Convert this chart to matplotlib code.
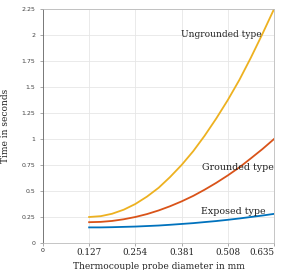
import matplotlib.pyplot as plt

diameter = [0.127, 0.159, 0.190, 0.222, 0.254, 0.286, 0.318, 0.349, 0.381,
            0.413, 0.444, 0.476, 0.508, 0.540, 0.571, 0.603, 0.635]
exposed = [0.150, 0.150, 0.152, 0.155, 0.158, 0.163, 0.168, 0.175, 0.183,
           0.191, 0.201, 0.211, 0.223, 0.236, 0.250, 0.264, 0.280]
grounded = [0.200, 0.203, 0.212, 0.228, 0.250, 0.278, 0.313, 0.353, 0.400,
            0.453, 0.512, 0.578, 0.650, 0.728, 0.813, 0.903, 1.000]
ungrounded = [0.250, 0.258, 0.281, 0.320, 0.375, 0.446, 0.531, 0.633, 0.750,
              0.883, 1.030, 1.196, 1.375, 1.570, 1.780, 2.010, 2.250]

xticks = [0, 0.127, 0.254, 0.381, 0.508, 0.635]
xtick_labels = ['0', '0.127', '0.254', '0.381', '0.508', '0.635']
yticks = [0, 0.25, 0.5, 0.75, 1, 1.25, 1.5, 1.75, 2, 2.25]
ytick_labels = ['0', '0.25', '0.5', '0.75', '1', '1.25', '1.5', '1.75', '2', '2.25']

fig = plt.figure(figsize=(2.82, 2.70), dpi=100)
ax = fig.add_axes([0.152, 0.1, 0.82, 0.867])

ax.plot(diameter, exposed, color='#0072BD', linewidth=1.3)
ax.plot(diameter, grounded, color='#D95319', linewidth=1.3)
ax.plot(diameter, ungrounded, color='#EDB120', linewidth=1.3)

ax.set_xlim(0, 0.635)
ax.set_ylim(0, 2.25)
ax.set_xticks(xticks)
ax.set_xticklabels(xtick_labels, family='DejaVu Serif', fontsize=6.3)
labels = ax.get_xticklabels()
labels[0].set_fontsize(4.5)
labels[0].set_family('DejaVu Sans')
labels[-1].set_horizontalalignment('right')
ax.set_yticks(yticks)
ax.set_yticklabels(ytick_labels, fontsize=4.5)
ax.tick_params(length=2, width=0.5, colors='#888888', labelcolor='#444444')
ax.tick_params(axis='x', pad=1.5, labelcolor='#222222')
ax.grid(True, color='#e6e6e6', linewidth=0.6)

for s in ax.spines.values():
    s.set_color('#bbbbbb')
    s.set_linewidth(0.6)
ax.spines['left'].set_color('#666666')

ax.text(0.6, 2.0, 'Ungrounded type', family='DejaVu Serif', fontsize=6.5,
        ha='right', va='center', color='#222222')
ax.text(0.633, 0.73, 'Grounded type', family='DejaVu Serif', fontsize=6.8,
        ha='right', va='center', color='#222222')
ax.text(0.612, 0.30, 'Exposed type', family='DejaVu Serif', fontsize=6.8,
        ha='right', va='center', color='#222222')

ax.set_xlabel('Thermocouple probe diameter in mm', family='DejaVu Serif',
              fontsize=6.5, labelpad=4, color='#222222')
ax.set_ylabel('Time in seconds', family='DejaVu Serif', fontsize=6.5,
              labelpad=8, color='#222222')

fig.savefig('out.png', dpi=100)
